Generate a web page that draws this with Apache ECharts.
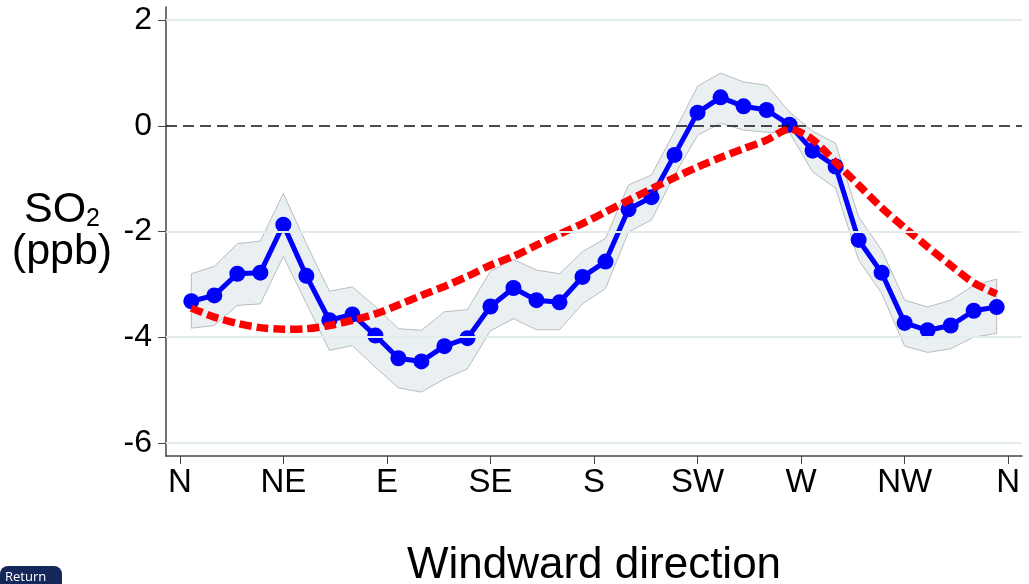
<!DOCTYPE html>
<html>
<head>
<meta charset="utf-8">
<script src="https://cdn.jsdelivr.net/npm/echarts@6/dist/echarts.min.js"></script>
<style>
  html, body { margin: 0; padding: 0; background: #fff; }
  #chart { width: 1029px; height: 584px; }
</style>
</head>
<body>
<div id="chart"></div>
<script>
// wind direction bins (degrees), centre of each 10 degree bin
const angles = [5, 15, 25, 35, 45, 55, 65, 75, 85, 95, 105, 115, 125, 135, 145, 155, 165, 175,
  185, 195, 205, 215, 225, 235, 245, 255, 265, 275, 285, 295, 305, 315, 325, 335, 345, 355]
// SO2 estimate (blue dots)
const so2 = [-3.32, -3.21, -2.80, -2.78, -1.87, -2.84, -3.68, -3.57, -3.97, -4.40, -4.46, -4.17,
  -4.02, -3.42, -3.07, -3.30, -3.34, -2.86, -2.57, -1.58, -1.35, -0.55, 0.25, 0.54,
  0.37, 0.30, 0.02, -0.47, -0.77, -2.16, -2.78, -3.73, -3.87, -3.78, -3.50, -3.43]
// confidence band
const ciUpper = [-2.80, -2.66, -2.23, -2.18, -1.28, -2.23, -3.13, -3.05, -3.42, -3.84, -3.87, -3.52,
  -3.48, -2.75, -2.53, -2.73, -2.80, -2.38, -2.13, -1.12, -0.93, -0.11, 0.75, 1.00,
  0.83, 0.77, 0.26, -0.10, -0.33, -1.72, -2.35, -3.30, -3.43, -3.30, -3.02, -2.90]
const ciLower = [-3.83, -3.78, -3.40, -3.37, -2.47, -3.36, -4.25, -4.16, -4.57, -4.96, -5.04, -4.79,
  -4.60, -3.88, -3.65, -3.86, -3.86, -3.37, -3.08, -2.01, -1.78, -0.93, -0.18, 0.05,
  -0.08, -0.12, -0.13, -0.87, -1.18, -2.54, -3.17, -4.17, -4.29, -4.22, -4.00, -3.93]
// fitted curve (red dashes)
const fitted = [-3.45, -3.62, -3.74, -3.82, -3.85, -3.84, -3.78, -3.68, -3.56, -3.39, -3.21, -3.04,
  -2.85, -2.64, -2.47, -2.26, -2.05, -1.85, -1.63, -1.41, -1.19, -0.98, -0.78, -0.60,
  -0.43, -0.27, -0.06, -0.26, -0.69, -1.12, -1.55, -1.93, -2.29, -2.64, -2.97, -3.18]
// axis ticks
const dirTicks = [0, 45, 90, 135, 180, 225, 270, 315, 360]
const dirLabels = ['N', 'NE', 'E', 'SE', 'S', 'SW', 'W', 'NW', 'N']
const yTicks = [-6, -4, -2, 0, 2]

const pair = arr => angles.map((a, i) => [a, arr[i]])
const font = "'Liberation Sans', Arial, sans-serif"

// 置信带：用自定义多边形画（上沿 + 反向下沿）
function renderBand(params, api) {
  if (params.dataIndex !== 0) return
  let pts = []
  for (let i = 0; i < angles.length; i++) pts.push(api.coord([angles[i], ciUpper[i]]))
  for (let i = angles.length - 1; i >= 0; i--) pts.push(api.coord([angles[i], ciLower[i]]))
  return {
    type: 'polygon',
    shape: { points: pts },
    style: { fill: 'rgba(214,224,230,0.5)', stroke: '#b8bcbf', lineWidth: 1 }
  }
}

let chart = echarts.init(document.getElementById('chart'))
let option = {
  animation: false,
  grid: { left: 166, right: 7, top: 7, bottom: 128, outerBoundsMode: 'none', containLabel: false },
  xAxis: {
    type: 'value',
    min: -6,
    max: 366,
    name: 'Windward direction',
    nameLocation: 'middle',
    nameGap: 88,
    nameTextStyle: { fontFamily: font, fontSize: 44, color: '#000' },
    axisLine: { show: true, onZero: false, lineStyle: { color: '#444', width: 1.5 } },
    axisTick: { show: true, customValues: dirTicks, length: 8, lineStyle: { color: '#444' } },
    axisLabel: {
      customValues: dirTicks,
      margin: 10,
      fontFamily: font,
      fontSize: 33,
      color: '#000',
      formatter: v => dirLabels[dirTicks.indexOf(v)]
    },
    splitLine: { show: false }
  },
  yAxis: {
    type: 'value',
    min: -6.25,
    max: 2.25,
    name: 'SO{sub|2}\n(ppb)',
    nameLocation: 'middle',
    nameRotate: 0,
    nameGap: 104,
    nameTextStyle: {
      fontFamily: font, fontSize: 43, color: '#000', align: 'center', lineHeight: 42,
      rich: { sub: { fontFamily: font, fontSize: 25, color: '#000', verticalAlign: 'bottom', padding: [18, 0, 0, 0] } }
    },
    axisLine: { show: true, onZero: false, lineStyle: { color: '#444', width: 1.5 } },
    axisTick: { show: true, customValues: yTicks, length: 8, lineStyle: { color: '#444' } },
    axisLabel: {
      customValues: yTicks,
      margin: 14,
      fontFamily: font,
      fontSize: 32,
      color: '#000',
      formatter: v => String(v)
    },
    splitLine: { show: false }
  },
  graphic: [{
    type: 'group',
    left: 0,
    top: 566,
    children: [
      { type: 'rect', shape: { x: 0, y: 0, width: 62, height: 26, r: 8 }, style: { fill: '#14275a' } },
      { type: 'text', x: 5, y: 5, style: { text: 'Return', fill: '#fff', font: "13px 'Open Sans', sans-serif" } }
    ]
  }],
  series: [
    {
      // 参考线：网格线和零线
      type: 'line',
      data: [],
      z: 0,
      silent: true,
      markLine: {
        silent: true,
        symbol: 'none',
        label: { show: false },
        data: [
          { yAxis: -6, lineStyle: { color: '#e3eced', width: 2, type: 'solid' } },
          { yAxis: -4, lineStyle: { color: '#e3eced', width: 2, type: 'solid' } },
          { yAxis: -2, lineStyle: { color: '#e3eced', width: 2, type: 'solid' } },
          { yAxis: 2, lineStyle: { color: '#e3eced', width: 2, type: 'solid' } },
          { yAxis: 0, lineStyle: { color: '#111', width: 1.6, type: [11, 6] } }
        ]
      }
    },
    {
      name: 'band',
      type: 'custom',
      renderItem: renderBand,
      data: angles.map((a, i) => [a, ciLower[i], ciUpper[i]]),
      encode: { x: 0, y: [1, 2] },
      silent: true,
      z: 1
    },
    {
      name: 'SO2',
      type: 'line',
      data: pair(so2),
      symbol: 'circle',
      symbolSize: 16,
      z: 3,
      itemStyle: { color: '#0000ff' },
      lineStyle: { color: '#0000ff', width: 5 }
    },
    {
      name: 'fit',
      type: 'line',
      data: pair(fitted),
      symbol: 'none',
      smooth: 0.3,
      z: 4,
      lineStyle: { color: '#ff0000', width: 7.5, type: [12, 5] }
    }
  ]
}
chart.setOption(option)
</script>
</body>
</html>
